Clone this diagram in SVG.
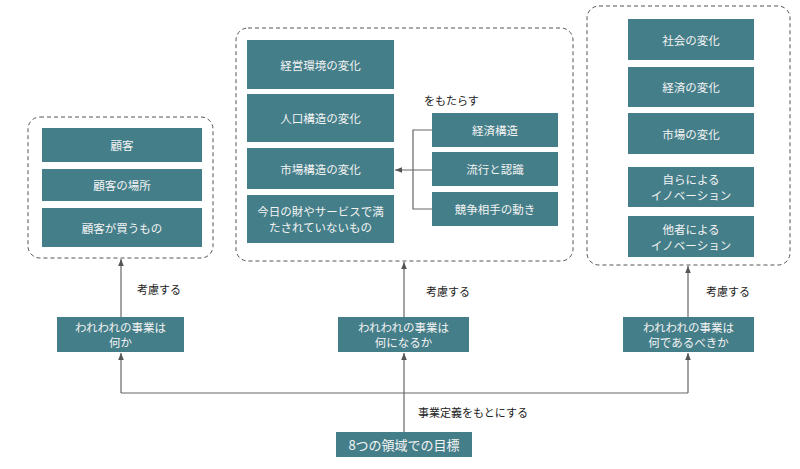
<svg xmlns="http://www.w3.org/2000/svg" width="800" height="469" viewBox="0 0 800 469">
<defs>
<style>
.box{fill:#447e89;}
.bt{fill:#f4f4f4;font-family:"Noto Sans CJK JP","Noto Sans",sans-serif;font-size:11.5px;text-anchor:middle;dominant-baseline:central;}
.lbl{fill:#222;font-family:"Noto Sans CJK JP","Noto Sans",sans-serif;font-size:11px;dominant-baseline:central;}
.grp{fill:none;stroke:#555;stroke-width:1;stroke-dasharray:4 3;}
.ln{fill:none;stroke:#666;stroke-width:1.2;}
</style>
<marker id="ah" viewBox="0 0 10 10" refX="10" refY="5" markerWidth="6" markerHeight="6" orient="auto">
<path d="M0,1 L10,5 L0,9 z" fill="#555"/>
</marker>
</defs>
<rect width="800" height="469" fill="#fff"/>

<g id="containers">
<rect class="grp" x="28" y="117" width="185" height="141" rx="12"/>
<rect class="grp" x="236" y="28" width="337" height="233" rx="12"/>
<rect class="grp" x="587" y="6" width="203" height="259" rx="12"/>
</g>

<g id="connectors">
<path class="ln" d="M121,317 V259" marker-end="url(#ah)"/>
<path class="ln" d="M404,317 V262" marker-end="url(#ah)"/>
<path class="ln" d="M688,317 V266" marker-end="url(#ah)"/>
<path class="ln" d="M121,393 H688"/>
<path class="ln" d="M121,393 V353" marker-end="url(#ah)"/>
<path class="ln" d="M404,432 V353" marker-end="url(#ah)"/>
<path class="ln" d="M688,393 V353" marker-end="url(#ah)"/>
<path class="ln" d="M432,130 H413 V209 H432"/>
<path class="ln" d="M432,170 H395" marker-end="url(#ah)"/>
</g>

<g id="labels">
<text class="lbl" x="137" y="289">考慮する</text>
<text class="lbl" x="426" y="291">考慮する</text>
<text class="lbl" x="706" y="291">考慮する</text>
<text class="lbl" x="418" y="412">事業定義をもとにする</text>
<text class="lbl" x="424" y="100">をもたらす</text>
</g>

<g id="n-kokyaku"><rect class="box" x="42" y="128" width="160" height="34"/><text class="bt" x="122" y="145">顧客</text></g>
<g id="n-kokyaku-basho"><rect class="box" x="42" y="169" width="160" height="32"/><text class="bt" x="122" y="185">顧客の場所</text></g>
<g id="n-kokyaku-kau"><rect class="box" x="42" y="208" width="160" height="39"/><text class="bt" x="122" y="227.5">顧客が買うもの</text></g>

<g id="n-keiei"><rect class="box" x="247" y="40" width="147" height="49"/><text class="bt" x="320.5" y="64.5">経営環境の変化</text></g>
<g id="n-jinko"><rect class="box" x="247" y="94" width="147" height="48"/><text class="bt" x="320.5" y="118">人口構造の変化</text></g>
<g id="n-shijo-kozo"><rect class="box" x="247" y="148" width="147" height="41"/><text class="bt" x="320.5" y="168.5">市場構造の変化</text></g>
<g id="n-konnichi"><rect class="box" x="247" y="195" width="147" height="48"/><text class="bt" x="320.5" y="211">今日の財やサービスで満</text><text class="bt" x="320.5" y="227">たされていないもの</text></g>

<g id="n-keizai-kozo"><rect class="box" x="432" y="113" width="126" height="34"/><text class="bt" x="495" y="130">経済構造</text></g>
<g id="n-ryuko"><rect class="box" x="432" y="152" width="126" height="34"/><text class="bt" x="495" y="169">流行と認識</text></g>
<g id="n-kyoso"><rect class="box" x="432" y="192" width="126" height="34"/><text class="bt" x="495" y="209">競争相手の動き</text></g>

<g id="n-shakai"><rect class="box" x="628" y="19" width="126" height="41"/><text class="bt" x="691" y="39.5">社会の変化</text></g>
<g id="n-keizai"><rect class="box" x="628" y="67" width="126" height="40"/><text class="bt" x="691" y="87">経済の変化</text></g>
<g id="n-shijo"><rect class="box" x="628" y="113" width="126" height="41"/><text class="bt" x="691" y="133.5">市場の変化</text></g>
<g id="n-mizukara"><rect class="box" x="628" y="167" width="126" height="40"/><text class="bt" x="691" y="179">自らによる</text><text class="bt" x="691" y="195">イノベーション</text></g>
<g id="n-tasha"><rect class="box" x="628" y="216" width="126" height="41"/><text class="bt" x="691" y="228.5">他者による</text><text class="bt" x="691" y="244.5">イノベーション</text></g>

<g id="n-nanika"><rect class="box" x="57" y="317" width="127" height="35"/><text class="bt" x="120.5" y="327">われわれの事業は</text><text class="bt" x="120.5" y="342">何か</text></g>
<g id="n-naninaru"><rect class="box" x="338" y="317" width="131" height="35"/><text class="bt" x="403.5" y="327">われわれの事業は</text><text class="bt" x="403.5" y="342">何になるか</text></g>
<g id="n-nanidearu"><rect class="box" x="623" y="317" width="131" height="35"/><text class="bt" x="688.5" y="327">われわれの事業は</text><text class="bt" x="688.5" y="342">何であるべきか</text></g>

<g id="n-mokuhyo"><rect class="box" x="336" y="432" width="136" height="25"/><text class="bt" x="404" y="444.5" style="font-size:13px">8つの領域での目標</text></g>
</svg>
